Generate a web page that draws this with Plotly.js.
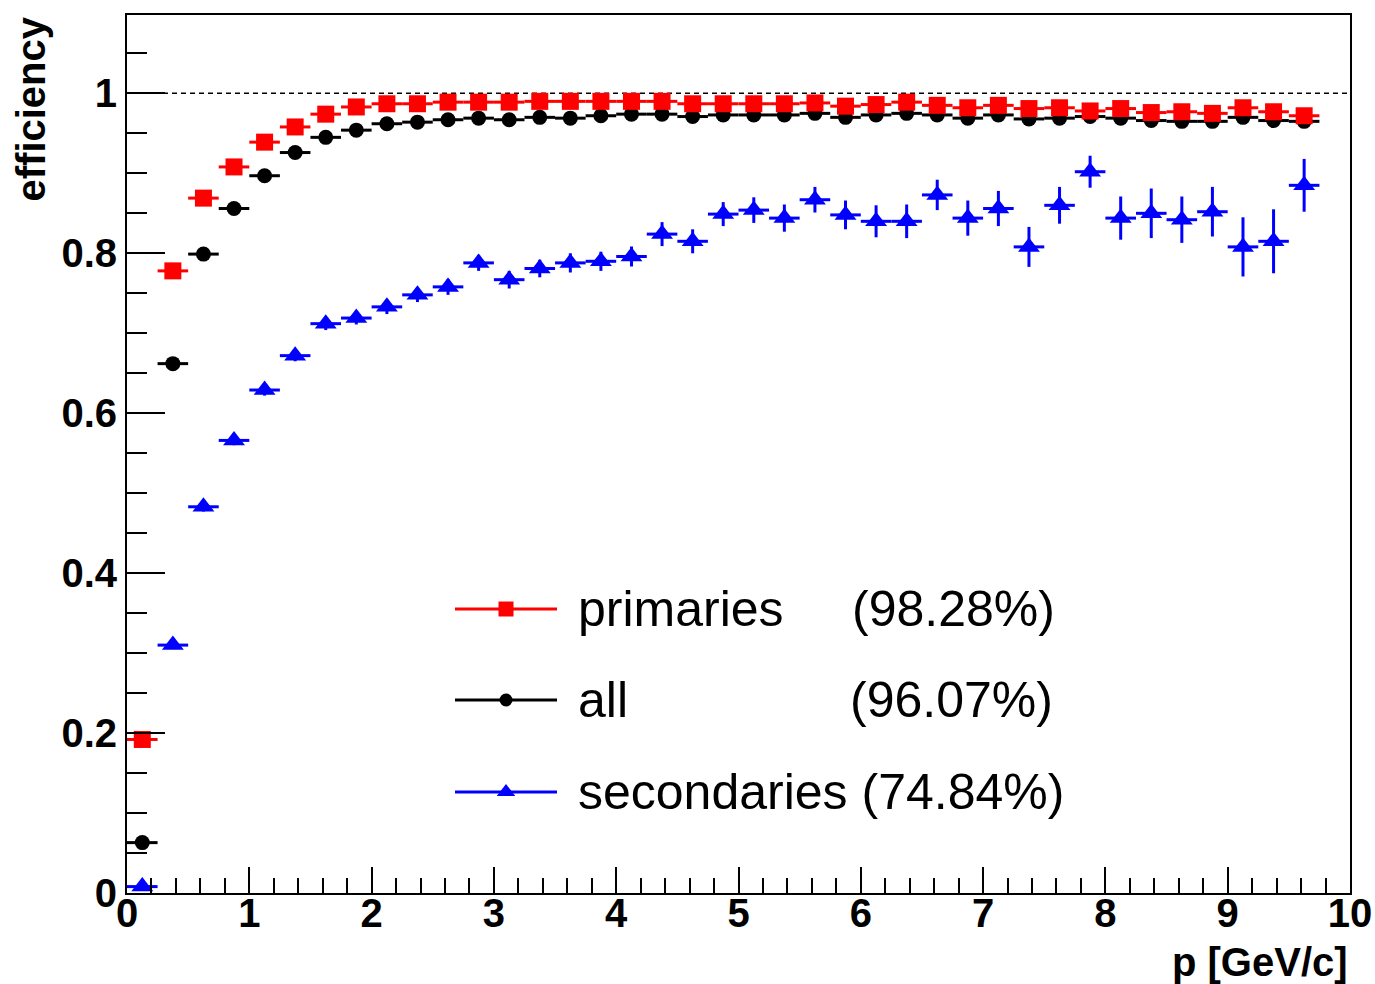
<!DOCTYPE html>
<html>
<head>
<meta charset="utf-8">
<script src="https://cdn.plot.ly/plotly-3.0.1.min.js"></script>
<style>
  html, body { margin: 0; padding: 0; background: #ffffff; }
  #plot { width: 1375px; height: 984px; }
</style>
</head>
<body>
<div id="plot"></div>
<script>
// Bin centres in p [GeV/c] (0.25 GeV/c bins)
const pBins = [0.125, 0.375, 0.625, 0.875, 1.125, 1.375, 1.625, 1.875, 2.125, 2.375,
               2.625, 2.875, 3.125, 3.375, 3.625, 3.875, 4.125, 4.375, 4.625, 4.875,
               5.125, 5.375, 5.625, 5.875, 6.125, 6.375, 6.625, 6.875, 7.125, 7.375,
               7.625, 7.875, 8.125, 8.375, 8.625, 8.875, 9.125, 9.375, 9.625];
const binHalfWidth = 0.125;

// Efficiency per bin
const effPrimaries = [0.192, 0.778, 0.869, 0.908, 0.939, 0.958, 0.974, 0.983, 0.987, 0.987,
                      0.989, 0.989, 0.989, 0.990, 0.990, 0.990, 0.990, 0.990, 0.987, 0.987,
                      0.987, 0.987, 0.988, 0.984, 0.986, 0.989, 0.985, 0.982, 0.985, 0.981,
                      0.982, 0.978, 0.981, 0.976, 0.977, 0.975, 0.982, 0.977, 0.972];
const effAll = [0.063, 0.662, 0.799, 0.856, 0.897, 0.926, 0.945, 0.954, 0.962, 0.964,
                0.967, 0.969, 0.967, 0.970, 0.969, 0.972, 0.974, 0.974, 0.971, 0.973,
                0.973, 0.973, 0.975, 0.970, 0.973, 0.975, 0.973, 0.969, 0.973, 0.968,
                0.969, 0.971, 0.969, 0.966, 0.965, 0.965, 0.970, 0.966, 0.965];
const effSecondaries = [0.008, 0.310, 0.483, 0.566, 0.629, 0.672, 0.712, 0.719, 0.733, 0.748,
                        0.758, 0.788, 0.767, 0.781, 0.788, 0.790, 0.796, 0.824, 0.815, 0.849,
                        0.854, 0.844, 0.867, 0.848, 0.840, 0.840, 0.873, 0.844, 0.856, 0.808,
                        0.860, 0.902, 0.844, 0.850, 0.842, 0.852, 0.808, 0.815, 0.885];
const errSecondaries = [0.003, 0.005, 0.006, 0.006, 0.007, 0.007, 0.008, 0.008, 0.009, 0.009,
                        0.010, 0.010, 0.011, 0.011, 0.012, 0.012, 0.0125, 0.015, 0.015, 0.015,
                        0.016, 0.017, 0.016, 0.018, 0.020, 0.021, 0.019, 0.022, 0.022, 0.025,
                        0.023, 0.020, 0.027, 0.031, 0.029, 0.031, 0.037, 0.040, 0.033];

// Legend entries
const legendLabels = ["primaries", "all", "secondaries (74.84%)"];
const legendTotals = ["(98.28%)", "(96.07%)"];
const seriesColors = ["#ff0000", "#000000", "#0000ff"];
const seriesSymbols = ["square", "circle", "triangle-up"];
const seriesSizes = [17, 15, 19];
const legendMarkSizes = [15, 13, 16];

const yTickVals = [0, 0.2, 0.4, 0.6, 0.8, 1];
const yTickText = ["0", "0.2", "0.4", "0.6", "0.8", "1"];
const xTickVals = [0, 1, 2, 3, 4, 5, 6, 7, 8, 9, 10];
const xTickText = ["0", "1", "2", "3", "4", "5", "6", "7", "8", "9", "10"];

const W = 1375, H = 984;
const M = { l: 127, r: 25, t: 15, b: 91 };
const plotW = W - M.l - M.r, plotH = H - M.t - M.b;
const px = x => (x - M.l) / plotW;       // page x -> paper x
const py = y => (H - M.b - y) / plotH;   // page y -> paper y

function hist(y, i, errY) {
  const tr = {
    x: pBins, y: y, type: "scatter", mode: "markers",
    marker: { symbol: seriesSymbols[i], size: seriesSizes[i], color: seriesColors[i], line: { width: 0 } },
    error_x: { type: "constant", value: binHalfWidth, thickness: 3, width: 0, color: seriesColors[i] },
    showlegend: false, hoverinfo: "x+y"
  };
  if (errY) tr.error_y = { type: "data", array: errY, thickness: 3, width: 0, color: seriesColors[i] };
  return tr;
}

const traces = [
  hist(effSecondaries, 2, errSecondaries),
  hist(effAll, 1, null),
  hist(effPrimaries, 0, null)
];

// Legend swatches on an overlay axis in page-fraction units
const rowY = [609, 700, 792];
const swX0 = 455, swX1 = 557, swXm = 506;
legendLabels.forEach((n, i) => {
  traces.push({
    x: [px(swX0), px(swX1)], y: [py(rowY[i]), py(rowY[i])],
    xaxis: "x2", yaxis: "y2", type: "scatter", mode: "lines",
    line: { color: seriesColors[i], width: 3 },
    showlegend: false, hoverinfo: "skip"
  });
  traces.push({
    x: [px(swXm)], y: [py(rowY[i])],
    xaxis: "x2", yaxis: "y2", type: "scatter", mode: "markers",
    marker: { symbol: seriesSymbols[i], size: legendMarkSizes[i], color: seriesColors[i], line: { width: 0 } },
    showlegend: false, hoverinfo: "skip"
  });
});

const legendFont = { family: "Liberation Sans, Arial, sans-serif", size: 50, color: "#000" };
const annotations = [];
legendLabels.forEach((n, i) => {
  annotations.push({
    xref: "paper", yref: "paper", x: px(576), y: py(rowY[i]),
    xanchor: "left", yanchor: "middle", showarrow: false,
    text: n, font: legendFont
  });
});
const totX = [850, 848];
legendTotals.forEach((t, i) => {
  annotations.push({
    xref: "paper", yref: "paper", x: px(totX[i]), y: py(rowY[i]),
    xanchor: "left", yanchor: "middle", showarrow: false,
    text: t, font: legendFont
  });
});
// Axis titles
annotations.push({
  xref: "paper", yref: "paper", x: px(30), y: 1, xanchor: "center", yanchor: "top",
  textangle: -90, showarrow: false, text: "efficiency",
  font: { family: "Liberation Sans, Arial, sans-serif", size: 40, weight: 700, color: "#000" }
});
annotations.push({
  xref: "paper", yref: "paper", x: 1, y: py(962), xanchor: "right", yanchor: "middle",
  showarrow: false, text: "p [GeV/c]",
  font: { family: "Liberation Sans, Arial, sans-serif", size: 40, weight: 700, color: "#000" }
});

const tickFont = { family: "Liberation Sans, Arial, sans-serif", size: 40, weight: 700, color: "#000" };

const layout = {
  width: W, height: H,
  margin: M,
  paper_bgcolor: "#ffffff", plot_bgcolor: "#ffffff",
  showlegend: false,
  xaxis: {
    range: [0, 10], showgrid: false, zeroline: false,
    showline: true, linecolor: "#000", linewidth: 2, mirror: true,
    ticks: "inside", ticklen: 26, tickwidth: 2, tickcolor: "#000",
    tickvals: xTickVals, ticktext: xTickText, tickfont: tickFont, ticklabelstandoff: -16,
    minor: { dtick: 0.2, ticks: "inside", ticklen: 15, tickwidth: 2, tickcolor: "#000", showgrid: false }
  },
  yaxis: {
    range: [0, 1.098], showgrid: false, zeroline: false,
    showline: true, linecolor: "#000", linewidth: 2, mirror: true,
    ticks: "inside", ticklen: 38, tickwidth: 2, tickcolor: "#000",
    tickvals: yTickVals, ticktext: yTickText, tickfont: tickFont, ticklabelstandoff: 0,
    minor: { dtick: 0.05, ticks: "inside", ticklen: 20, tickwidth: 2, tickcolor: "#000", showgrid: false }
  },
  xaxis2: { overlaying: "x", range: [0, 1], visible: false, fixedrange: true },
  yaxis2: { overlaying: "y", range: [0, 1], visible: false, fixedrange: true },
  shapes: [{
    type: "line", xref: "x", yref: "y", x0: 0, x1: 10, y0: 1, y1: 1,
    line: { color: "#000", width: 1.5, dash: "5px,4px" }, layer: "below"
  }],
  annotations: annotations
};

Plotly.newPlot("plot", traces, layout, { staticPlot: true, displayModeBar: false });
</script>
</body>
</html>
